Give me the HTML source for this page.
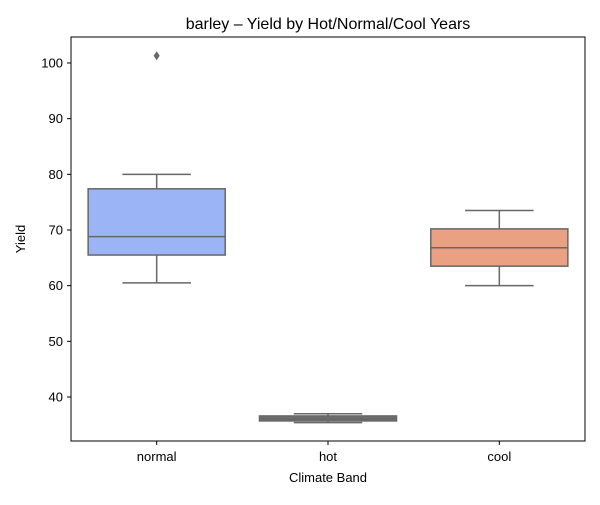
<!DOCTYPE html>
<html><head><meta charset="utf-8"><style>
body{margin:0;background:#fff;font-family:"Liberation Sans","DejaVu Sans",sans-serif}
</style></head><body>
<svg id="c" width="600" height="500" xmlns="http://www.w3.org/2000/svg"></svg>
<script>
const categories=["normal","hot","cool"];
const whiskerLow=[60.5,35.4,60.0];
const q1=[65.5,35.7,63.5];
const median=[68.8,36.1,66.8];
const q3=[77.4,36.6,70.2];
const whiskerHigh=[80.0,37.0,73.5];
const outliers=[[101.3],[],[]];
const colors=["#9ab4f5","#6f6f6f","#e9a083"];
const yTicks=[40,50,60,70,80,90,100];
const L=71,R=585,T=37,B=441;
const y=v=>397-(v-40)*5.567;
const step=(R-L)/3;
const x=i=>L+step*(i+0.5);
const svg=document.getElementById('c');
const NS="http://www.w3.org/2000/svg";
function mk(t,a,txt){const e=document.createElementNS(NS,t);for(const k in a)e.setAttribute(k,a[k]);if(txt!=null)e.textContent=txt;svg.appendChild(e);return e;}
let e;
e=mk('text',{x:328,y:29,'text-anchor':'middle','font-size':16,fill:'#000'},'barley – Yield by Hot/Normal/Cool Years');


yTicks.forEach(v=>{
 e=mk('line',{x1:L-4,x2:L,y1:y(v),y2:y(v),stroke:'#000'});
 
 
 e=mk('text',{x:L-8,y:y(v)+4.5,'text-anchor':'end','font-size':13},String(v));
 
 
});
const bw=step*0.8;
categories.forEach((c,i)=>{
 const cx=x(i),g='#676767';
 e=mk('line',{x1:cx,x2:cx,y1:y(q3[i]),y2:y(whiskerHigh[i]),stroke:g,'stroke-width':1.5});
 
 
 e=mk('line',{x1:cx,x2:cx,y1:y(q1[i]),y2:y(whiskerLow[i]),stroke:g,'stroke-width':1.5});
 
 
 e=mk('line',{x1:cx-bw/4,x2:cx+bw/4,y1:y(whiskerHigh[i]),y2:y(whiskerHigh[i]),stroke:g,'stroke-width':1.5});
 
 
 e=mk('line',{x1:cx-bw/4,x2:cx+bw/4,y1:y(whiskerLow[i]),y2:y(whiskerLow[i]),stroke:g,'stroke-width':1.5});
 
 
 e=mk('rect',{x:cx-bw/2,y:y(q3[i]),width:bw,height:y(q1[i])-y(q3[i]),fill:colors[i],stroke:g,'stroke-width':1.5});
 
 
 e=mk('line',{x1:cx-bw/2,x2:cx+bw/2,y1:y(median[i]),y2:y(median[i]),stroke:g,'stroke-width':1.5});
 
 
 outliers[i].forEach(o=>{
  e=mk('path',{d:`M${cx} ${y(o)-4.5}L${cx+3} ${y(o)}L${cx} ${y(o)+4.5}L${cx-3} ${y(o)}Z`,fill:g});
  
  
 });
 e=mk('line',{x1:cx,x2:cx,y1:B,y2:B+4,stroke:'#000'});
 
 
 e=mk('text',{x:cx,y:B+20,'text-anchor':'middle','font-size':13},c);
 
 
});
e=mk('rect',{x:L,y:T,width:R-L,height:B-T,fill:'none',stroke:'#000','stroke-width':1});


e=mk('text',{x:328,y:482,'text-anchor':'middle','font-size':13},'Climate Band');


e=mk('text',{x:25,y:239,'text-anchor':'middle','font-size':13,transform:'rotate(-90 25 239)'},'Yield');


</script>
</body></html>
